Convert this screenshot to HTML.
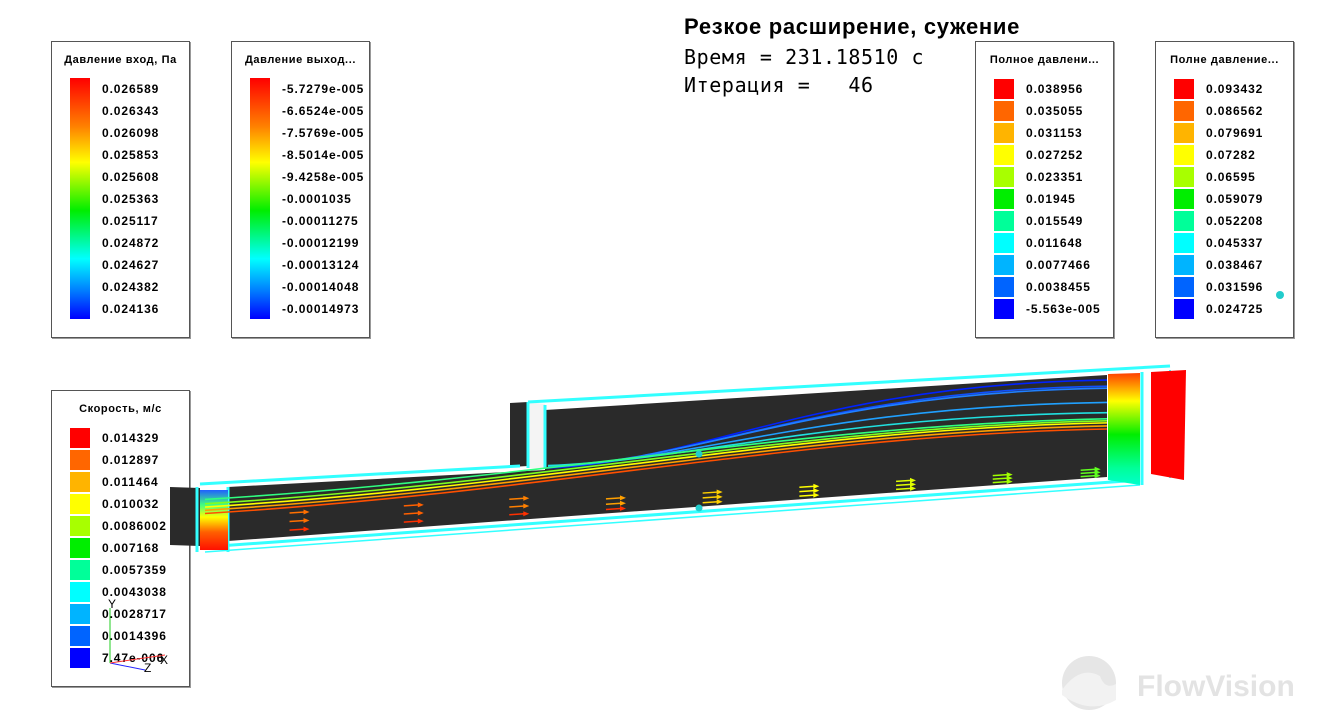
<!DOCTYPE html>
<html><head><meta charset="utf-8">
<style>
html,body{margin:0;padding:0;background:#fff;}
body{width:1344px;height:726px;position:relative;overflow:hidden;font-family:"Liberation Sans","DejaVu Sans",sans-serif;}
.leg{position:absolute;width:137px;height:295px;border:1px solid #555;box-shadow:1px 1px 0 #999;background:#fff;}
.leg .t{position:absolute;left:0;right:0;top:12px;text-align:center;font-size:11px;font-weight:bold;letter-spacing:0.6px;white-space:nowrap;}
.leg .bar{position:absolute;left:18px;top:36px;width:20px;height:241px;}
.leg .lab{position:absolute;left:50px;font-size:12px;font-weight:bold;letter-spacing:0.9px;white-space:nowrap;}
.blk{position:absolute;left:18px;width:20px;height:20px;}
.title{position:absolute;left:684px;top:14px;font-size:22px;font-weight:bold;letter-spacing:0.7px;}
.info{position:absolute;left:684px;font-family:"DejaVu Sans Mono","Liberation Mono",monospace;font-size:20px;letter-spacing:0.6px;white-space:pre;}
#scene{z-index:2;}
</style></head><body>
<div class="title">Резкое расширение, сужение</div>
<div class="info" style="top:45px">Время = 231.18510 с</div>
<div class="info" style="top:73px">Итерация =   46</div>

<div class="leg" style="left:51px;top:41px"><div class="t">Давление вход, Па</div><div class="bar" style="background:linear-gradient(#ff0000,#ff8000 20%,#ffff00 35%,#00ee00 55%,#00ffff 75%,#0080ff 88%,#0000ff)"></div></div>
<div class="leg" style="left:231px;top:41px"><div class="t">Давление выход...</div><div class="bar" style="background:linear-gradient(#ff0000,#ff8000 20%,#ffff00 35%,#00ee00 55%,#00ffff 75%,#0080ff 88%,#0000ff)"></div></div>
<div class="leg" style="left:975px;top:41px"><div class="t">Полное давлени...</div></div>
<div class="leg" style="left:1155px;top:41px"><div class="t">Полне давление...</div></div>
<div class="leg" style="left:51px;top:390px"><div class="t">Скорость, м/с</div></div>

<svg id="scene" width="1344" height="726" style="position:absolute;left:0;top:0">
<defs>
<linearGradient id="gIn" x1="0" y1="0" x2="0" y2="1">
<stop offset="0" stop-color="#2060ff"/><stop offset="0.25" stop-color="#40ff80"/><stop offset="0.45" stop-color="#ffff00"/><stop offset="0.7" stop-color="#ff6000"/><stop offset="1" stop-color="#ff1000"/></linearGradient>
<linearGradient id="gOut" x1="0" y1="0" x2="0" y2="1">
<stop offset="0" stop-color="#ff4000"/><stop offset="0.25" stop-color="#ffff00"/><stop offset="0.55" stop-color="#00ee00"/><stop offset="0.85" stop-color="#00ff99"/><stop offset="1" stop-color="#00ffcc"/></linearGradient>
</defs>
<polygon points="170,487 200,488 200,546 170,545" fill="#2a2a2a"/>
<polygon points="228,487 545,470 1107,440 1107,477 228,541" fill="#2a2a2a"/>
<polygon points="545,410 1107,375 1107,445 545,472" fill="#2a2a2a"/>
<polygon points="510,403 528,402 528,466 510,467" fill="#2a2a2a"/>
<polygon points="528,402 545,404 545,468 528,468" fill="#f4f4f4"/>
<g stroke="#33ffff" stroke-width="3" fill="none">
<line x1="200" y1="484" x2="520" y2="466"/>
<line x1="205" y1="547" x2="1140" y2="480"/>
<line x1="205" y1="552" x2="1140" y2="485" stroke-width="1.5"/>
<line x1="528" y1="402" x2="1170" y2="366"/>
<line x1="528" y1="402" x2="528" y2="468"/>
<line x1="545" y1="405" x2="545" y2="468"/>
<line x1="197" y1="487" x2="197" y2="552"/>
<line x1="228" y1="487" x2="228" y2="552"/>
<line x1="1142" y1="372" x2="1142" y2="485"/>
<line x1="1170" y1="370" x2="1170" y2="478" stroke-width="2"/>
</g>
<rect x="200" y="490" width="28" height="60" fill="url(#gIn)"/>
<polygon points="1108,374 1140,373 1140,485 1108,480" fill="url(#gOut)"/>
<polygon points="1151,372 1186,370 1184,480 1151,474" fill="#ff0000"/>
<g id="streams"></g>
<g id="arrows"></g>
<circle cx="699" cy="454" r="3.5" fill="#22cccc"/>
<circle cx="699" cy="508" r="3.5" fill="#22cccc"/>
<circle cx="1280" cy="295" r="4" fill="#22cccc"/>
<g font-size="12" font-family="Liberation Sans,sans-serif">
<line x1="110" y1="663" x2="110" y2="608" stroke="#22cc22"/>
<line x1="110" y1="663" x2="145" y2="670" stroke="#2222ff"/>
<line x1="110" y1="663" x2="165" y2="655" stroke="#ff3333"/>
<text x="108" y="608">Y</text><text x="160" y="664">X</text><text x="144" y="672">Z</text>
</g>
<g>
<circle cx="1089" cy="683" r="27" fill="#e6e6e6"/>
<path d="M1062,690 Q1080,665 1100,676 Q1105,690 1116,684 L1116,700 Q1090,715 1062,695Z" fill="#f2f2f2"/>
<text x="1137" y="696" font-size="30" font-weight="bold" fill="#e3e3e3" font-family="Liberation Sans,sans-serif">FlowVision</text>
</g>
</svg>

<script>
const inletLabels=["0.026589","0.026343","0.026098","0.025853","0.025608","0.025363","0.025117","0.024872","0.024627","0.024382","0.024136"];
const outletLabels=["-5.7279e-005","-6.6524e-005","-7.5769e-005","-8.5014e-005","-9.4258e-005","-0.0001035","-0.00011275","-0.00012199","-0.00013124","-0.00014048","-0.00014973"];
const total1Labels=["0.038956","0.035055","0.031153","0.027252","0.023351","0.01945","0.015549","0.011648","0.0077466","0.0038455","-5.563e-005"];
const total2Labels=["0.093432","0.086562","0.079691","0.07282","0.06595","0.059079","0.052208","0.045337","0.038467","0.031596","0.024725"];
const velLabels=["0.014329","0.012897","0.011464","0.010032","0.0086002","0.007168","0.0057359","0.0043038","0.0028717","0.0014396","7.47e-006"];
const blockColors=["#ff0000","#ff6600","#ffb400","#ffff00","#a8ff00","#00ee00","#00ff99","#00ffff","#00b4ff","#0064ff","#0000ff"];
const streamEnds=[0.02,0.08,0.10,0.24,0.34,0.40,0.42,0.44,0.47,0.50];
const streamStarts=[0.0,0.02,0.04,0.06,0.08,0.06,0.14,0.20,0.26,0.32];
const fromStep=[1,1,1,1,1,0,0,0,0,0];
const streamColors=["#0022ff","#1050ff","#2080ff","#20a0ff","#20e0e0","#30ff80","#80ff20","#ffff00","#ffa000","#ff5000"];
const arrowCols=[0.07,0.2,0.32,0.43,0.54,0.65,0.76,0.87,0.97];
const arrowRows=[0.45,0.65,0.85];
const arrowColors=["#ff7000","#ff6000","#ff8000","#ffa000","#ffd000","#ffff00","#e0ff00","#a0ff00","#60ff20"];

function fill(leg,labels,discrete){
  labels.forEach((l,i)=>{
    const d=document.createElement('div');d.className='lab';d.textContent=l;d.style.top=(40+i*22)+'px';
    
    
    leg.appendChild(d);
    if(discrete){const b=document.createElement('div');b.className='blk';b.style.top=(37+i*22)+'px';b.style.background=blockColors[i];
      
      
      leg.appendChild(b);}
  });
}
const legs=document.querySelectorAll('.leg');
fill(legs[0],inletLabels,false);fill(legs[1],outletLabels,false);
fill(legs[2],total1Labels,true);fill(legs[3],total2Labels,true);fill(legs[4],velLabels,true);

const NS='http://www.w3.org/2000/svg';
function lowTop(x){return 487-(x-228)*17/317;}
function bot(x){return 541-(x-228)*64/879;}
function upTop(x){return 410-(x-545)*35/562;}
function topAt(x){return x<545?lowTop(x):lowTop(545)-(x-545)*0.05;}
const sg=document.getElementById('streams');
streamEnds.forEach((e,i)=>{
  const x1=1107;
  const y1=upTop(x1)+3+e*(bot(x1)-upTop(x1));
  let d;
  if(fromStep[i]){
    const x0=548,y0=468-i*0.6;
    d=`M${x0},${y0} C700,${y0-6} 820,${y1+4} ${x1},${y1}`;
  }else{
    const x0=205,y0=lowTop(x0)+8+streamStarts[i]*54;
    d=`M${x0},${y0} C560,${y0-22} 800,${y1+6} ${x1},${y1}`;
  }
  const p=document.createElementNS(NS,'path');
  p.setAttribute('d',d);
  p.setAttribute('stroke',streamColors[i]);p.setAttribute('stroke-width','1.6');p.setAttribute('fill','none');
  
  
  sg.appendChild(p);
});
const ag=document.getElementById('arrows');
arrowCols.forEach((c,ci)=>{
  const x=228+c*(1107-228);
  const top=topAt(x)+(x>545?20:10);
  arrowRows.forEach((r,ri)=>{
    const y=top+r*(bot(x)-top);
    const col=ri===2&&ci<4?"#ff3000":arrowColors[ci];
    const l=document.createElementNS(NS,'line');
    l.setAttribute('x1',x);l.setAttribute('y1',y);l.setAttribute('x2',x+15);l.setAttribute('y2',y-1);
    l.setAttribute('stroke',col);l.setAttribute('stroke-width','1.5');
    
    
    ag.appendChild(l);
    const h=document.createElementNS(NS,'polygon');
    h.setAttribute('points',`${x+14},${y-3.5} ${x+20},${y-1} ${x+14},${y+1.5}`);
    h.setAttribute('fill',col);
    
    
    ag.appendChild(h);
  });
});
</script>
</body></html>
